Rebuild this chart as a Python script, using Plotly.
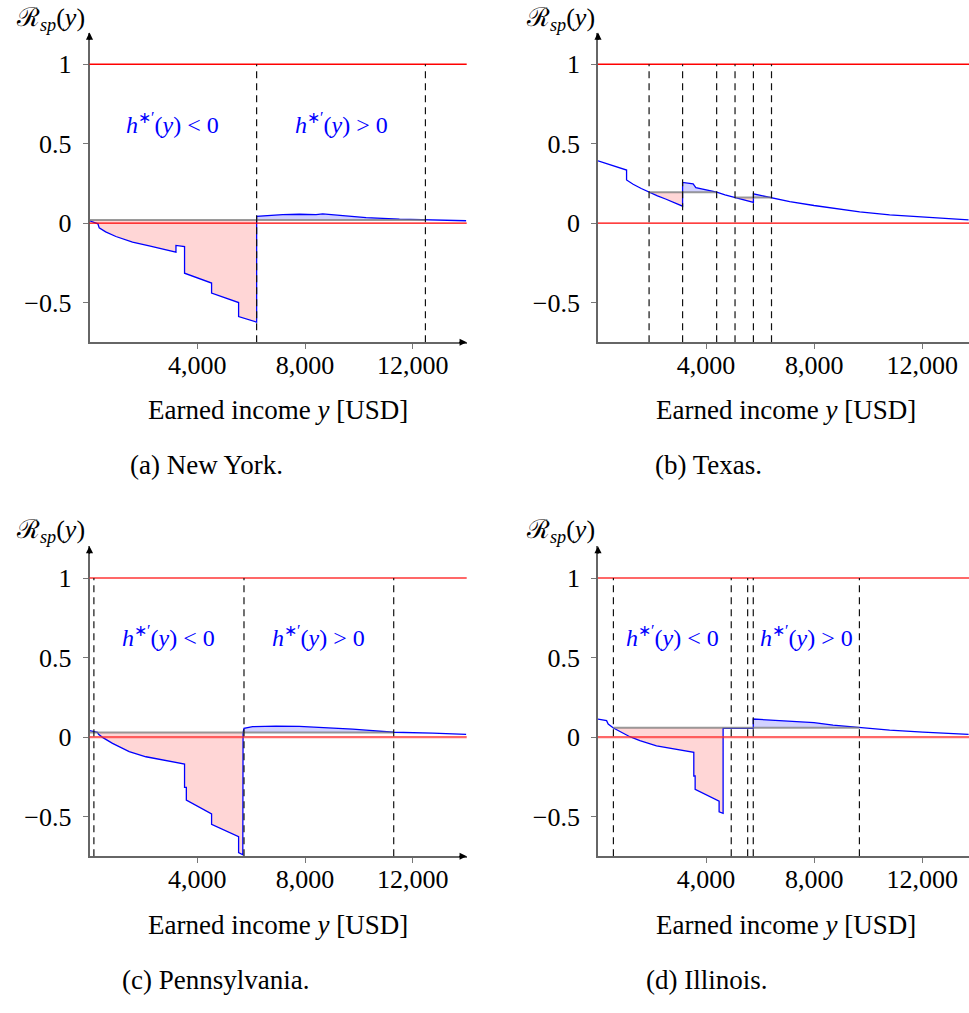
import plotly.graph_objects as go

# ---------------- data ----------------
# Earned income y [USD] and R_sp(y) along the curve, one pair of lists per state.

# (a) New York
ny_x = [0, 312, 360, 600, 980, 1597, 2217, 3209, 3209, 3528, 3528, 4531, 4531, 5534, 5534, 6203, 6203,
        6550, 7168, 7788, 8408, 8655, 9025, 9645, 9768, 10265, 11503, 12468, 13980]
ny_y = [0.015, -0.004, -0.03, -0.055, -0.084, -0.12, -0.143, -0.182, -0.14, -0.147, -0.315, -0.377, -0.44,
        -0.5, -0.588, -0.623, 0.042, 0.048, 0.054, 0.056, 0.054, 0.058, 0.052, 0.046, 0.042, 0.035, 0.025,
        0.021, 0.015]
ny_dash = [6203, 12468]
ny_level_x0 = [0]
ny_level_x1 = [12468]
ny_level = [0.02]
ny_fill_x0 = [0, 6203]
ny_fill_x1 = [6203, 12468]
ny_fill_level = [0.02, 0.02]
ny_fill_sign = ["neg", "pos"]

# (b) Texas
tx_x = [0, 1057, 1057, 1300, 1600, 1890, 2200, 2500, 2800, 3130, 3130, 3520, 3620, 4000, 4390, 4700, 5070,
        5400, 5750, 5750, 6420, 7095, 7993, 8696, 9683, 10791, 12023, 13712]
tx_y = [0.392, 0.334, 0.272, 0.245, 0.218, 0.195, 0.172, 0.152, 0.13, 0.107, 0.256, 0.247, 0.224, 0.21,
        0.195, 0.178, 0.161, 0.146, 0.13, 0.184, 0.161, 0.136, 0.111, 0.094, 0.071, 0.052, 0.038, 0.021]
tx_dash = [1890, 3130, 4390, 5070, 5750, 6420]
tx_level_x0 = [1890, 5070]
tx_level_x1 = [4390, 6420]
tx_level = [0.195, 0.161]
tx_fill_x0 = [1890, 3130, 5070, 5750]
tx_fill_x1 = [3130, 4390, 5750, 6420]
tx_fill_level = [0.195, 0.195, 0.161, 0.161]
tx_fill_sign = ["neg", "pos", "neg", "pos"]

# (c) Pennsylvania
pa_x = [0, 298, 336, 483, 854, 1474, 2094, 2711, 3528, 3528, 3594, 3594, 4531, 4531, 5534, 5534, 5660,
        5690, 5700, 5734, 6054, 6923, 7788, 8655, 9025, 9768, 10265, 11291, 12740, 13359, 13980]
pa_y = [0.04, 0.029, 0.017, -0.002, -0.04, -0.092, -0.124, -0.145, -0.17, -0.317, -0.317, -0.396, -0.484,
        -0.549, -0.627, -0.727, -0.736, -0.74, 0.028, 0.055, 0.065, 0.069, 0.067, 0.061, 0.058, 0.05,
        0.044, 0.03, 0.025, 0.019, 0.017]
pa_dash = [163, 5734, 11291]
pa_level_x0 = [0]
pa_level_x1 = [11291]
pa_level = [0.028]
pa_fill_x0 = [298, 5734]
pa_fill_x1 = [5700, 11291]
pa_fill_level = [0.028, 0.028]
pa_fill_sign = ["neg", "pos"]

# (d) Illinois
il_x = [0, 318, 377, 570, 1179, 1549, 2166, 2780, 3545, 3545, 3594, 3594, 4481, 4481, 4581, 4629, 4629,
        5745, 5745, 6478, 7095, 7993, 8696, 9672, 10791, 12023, 13257, 13712]
il_y = [0.113, 0.103, 0.082, 0.057, 0.002, -0.023, -0.055, -0.075, -0.096, -0.245, -0.245, -0.329, -0.403,
        -0.47, -0.48, -0.48, 0.055, 0.055, 0.113, 0.107, 0.10, 0.09, 0.075, 0.059, 0.044, 0.031, 0.021,
        0.017]
il_dash = [570, 4930, 5537, 5745, 9672]
il_level_x0 = [570]
il_level_x1 = [9672]
il_level = [0.058]
il_fill_x0 = [570, 5745]
il_fill_x1 = [4629, 9672]
il_fill_level = [0.058, 0.058]
il_fill_sign = ["neg", "pos"]

x_ticks = [4000, 8000, 12000]
x_ticktext = ["4,000", "8,000", "12,000"]
y_ticks = [-0.5, 0, 0.5, 1]
y_ticktext = ["\u22120.5", "0", "0.5", "1"]
captions = ["(a) New York.", "(b) Texas.", "(c) Pennsylvania.", "(d) Illinois."]

# ---------------- figure ----------------
W, H = 969, 1013
FONT = "Liberation Serif"
BLUE = "#0000ff"
RED_FILL = "rgba(255,0,0,0.16)"
BLUE_FILL = "rgba(0,0,255,0.18)"

panels = [
    dict(x=ny_x, y=ny_y, dash=ny_dash, lx0=ny_level_x0, lx1=ny_level_x1, lv=ny_level,
         fx0=ny_fill_x0, fx1=ny_fill_x1, fl=ny_fill_level, fs=ny_fill_sign,
         xdom=[89.5 / W, 466.7 / W], ydom=[1 - 342.3 / H, 1 - 32.5 / H], xmax=14000, arrow=True,
         red=("#ff0000", 1.3), notes=[(3070, "&lt;"), (9337, "&gt;")],
         ylab=(50, 19), xtitle=(278, 410), cap=(206, 465)),
    dict(x=tx_x, y=tx_y, dash=tx_dash, lx0=tx_level_x0, lx1=tx_level_x1, lv=tx_level,
         fx0=tx_fill_x0, fx1=tx_fill_x1, fl=tx_fill_level, fs=tx_fill_sign,
         xdom=[598 / W, 1.0], ydom=[1 - 342.3 / H, 1 - 32.5 / H], xmax=13727, arrow=False,
         red=("#ff0000", 1.3), notes=[],
         ylab=(560, 19), xtitle=(786, 410), cap=(708, 465)),
    dict(x=pa_x, y=pa_y, dash=pa_dash, lx0=pa_level_x0, lx1=pa_level_x1, lv=pa_level,
         fx0=pa_fill_x0, fx1=pa_fill_x1, fl=pa_fill_level, fs=pa_fill_sign,
         xdom=[89.5 / W, 466.7 / W], ydom=[1 - 856.3 / H, 1 - 546.2 / H], xmax=14000, arrow=True,
         red=("rgba(255,40,40,0.7)", 2.2), notes=[(2934, "&lt;"), (8505, "&gt;")],
         ylab=(50, 531), xtitle=(278, 925), cap=(215, 980)),
    dict(x=il_x, y=il_y, dash=il_dash, lx0=il_level_x0, lx1=il_level_x1, lv=il_level,
         fx0=il_fill_x0, fx1=il_fill_x1, fl=il_fill_level, fs=il_fill_sign,
         xdom=[598 / W, 1.0], ydom=[1 - 856.3 / H, 1 - 546.2 / H], xmax=13727, arrow=False,
         red=("rgba(255,40,40,0.7)", 2.2), notes=[(2758, "&lt;"), (7712, "&gt;")],
         ylab=(560, 531), xtitle=(786, 925), cap=(707, 980)),
]


def region(xs, ys, a, b):
    """Curve points between a and b; at a jump keep the value leaving a and the one reaching b."""
    at_a = [i for i, v in enumerate(xs) if v == a]
    at_b = [i for i, v in enumerate(xs) if v == b]
    idx = ([at_a[-1]] if at_a else []) + [i for i, v in enumerate(xs) if a < v < b] + ([at_b[0]] if at_b else [])
    return [xs[i] for i in idx], [ys[i] for i in idx]


def text_at(px, py, text, size, color="black"):
    return dict(x=px / W, y=1 - py / H, xref="paper", yref="paper", xanchor="center", yanchor="middle",
                showarrow=False, text=text, font=dict(family=FONT, size=size, color=color))


fig = go.Figure()
shapes, annotations = [], []
layout_axes = {}

for k, p in enumerate(panels, start=1):
    xa, ya = ("x" if k == 1 else f"x{k}"), ("y" if k == 1 else f"y{k}")
    xkey, ykey = ("xaxis" if k == 1 else f"xaxis{k}"), ("yaxis" if k == 1 else f"yaxis{k}")

    # shaded areas between the curve and the reference level
    for a, b, lvl, s in zip(p["fx0"], p["fx1"], p["fl"], p["fs"]):
        rx, ry = region(p["x"], p["y"], a, b)
        fig.add_trace(go.Scatter(
            x=[a] + rx + [b], y=[lvl] + ry + [lvl], xaxis=xa, yaxis=ya, mode="lines",
            line=dict(width=0), fill="toself", fillcolor=RED_FILL if s == "neg" else BLUE_FILL,
            hoverinfo="skip", showlegend=False))

    # the curve itself
    fig.add_trace(go.Scatter(x=p["x"], y=p["y"], xaxis=xa, yaxis=ya, mode="lines",
                             line=dict(color=BLUE, width=1.3), showlegend=False, hoverinfo="skip"))

    # red guide lines at 0 and 1
    rc, rw = p["red"]
    for lv in (0, 1):
        shapes.append(dict(type="line", xref=f"{xa} domain", yref=ya, x0=0, x1=1, y0=lv, y1=lv,
                           line=dict(color=rc, width=rw), layer="above"))
    # grey reference levels
    for a, b, lv in zip(p["lx0"], p["lx1"], p["lv"]):
        shapes.append(dict(type="line", xref=xa, yref=ya, x0=a, x1=b, y0=lv, y1=lv,
                           line=dict(color="rgba(120,120,120,0.75)", width=2), layer="above"))
    # dashed verticals
    for d in p["dash"]:
        shapes.append(dict(type="line", xref=xa, yref=ya, x0=d, x1=d, y0=-0.75, y1=1,
                           line=dict(color="#111", width=1.2, dash="7px,5px"), layer="above"))

    layout_axes[xkey] = dict(domain=p["xdom"], range=[0, p["xmax"]], anchor=ya, showgrid=False,
                             zeroline=False, showline=True, linecolor="#666", linewidth=1.6,
                             ticks="outside", ticklen=5, tickcolor="#777", tickwidth=1,
                             tickvals=x_ticks, ticktext=x_ticktext, ticklabelstandoff=-6,
                             tickfont=dict(family=FONT, size=26, color="black"))
    layout_axes[ykey] = dict(domain=p["ydom"], range=[-0.75, 1.2], anchor=xa, showgrid=False,
                             zeroline=False, showline=True, linecolor="#666", linewidth=1.6,
                             ticks="outside", ticklen=5, tickcolor="#777", tickwidth=1,
                             tickvals=y_ticks, ticktext=y_ticktext, ticklabelstandoff=6,
                             tickfont=dict(family=FONT, size=26, color="black"))

    # axis arrowheads
    annotations.append(dict(x=0, y=1.2, xref=xa, yref=ya, ax=0, ay=9, text="", showarrow=True,
                            arrowhead=2, arrowsize=1.1, arrowwidth=1.3, arrowcolor="black"))
    if p["arrow"]:
        annotations.append(dict(x=p["xmax"], y=-0.75, xref=xa, yref=ya, ax=-9, ay=0, text="",
                                showarrow=True, arrowhead=2, arrowsize=1.1, arrowwidth=1.3,
                                arrowcolor="black"))

    # region labels
    for xn, rel in p["notes"]:
        annotations.append(dict(x=xn, y=0.63, xref=xa, yref=ya, xanchor="center", yanchor="middle",
                                showarrow=False,
                                text=(f"<i>h</i><sup><span style='font-size:16px'>\u2217\u2032</span></sup>"
                                      f"(<i>y</i>) {rel} 0"),
                                font=dict(family=FONT, size=24, color=BLUE)))

    # y label, x title and caption
    annotations.append(text_at(*p["ylab"], "\u211b<sub><i>sp</i></sub>(<i>y</i>)", 26))
    annotations.append(text_at(*p["xtitle"], "Earned income <i>y</i> [USD]", 27))
    annotations.append(text_at(*p["cap"], captions[k - 1], 27))

fig.update_layout(
    width=W, height=H, margin=dict(l=0, r=0, t=0, b=0),
    paper_bgcolor="white", plot_bgcolor="white",
    font=dict(family=FONT, size=26, color="black"),
    shapes=shapes, annotations=annotations, showlegend=False,
    **layout_axes,
)

fig.write_html("out.html")
